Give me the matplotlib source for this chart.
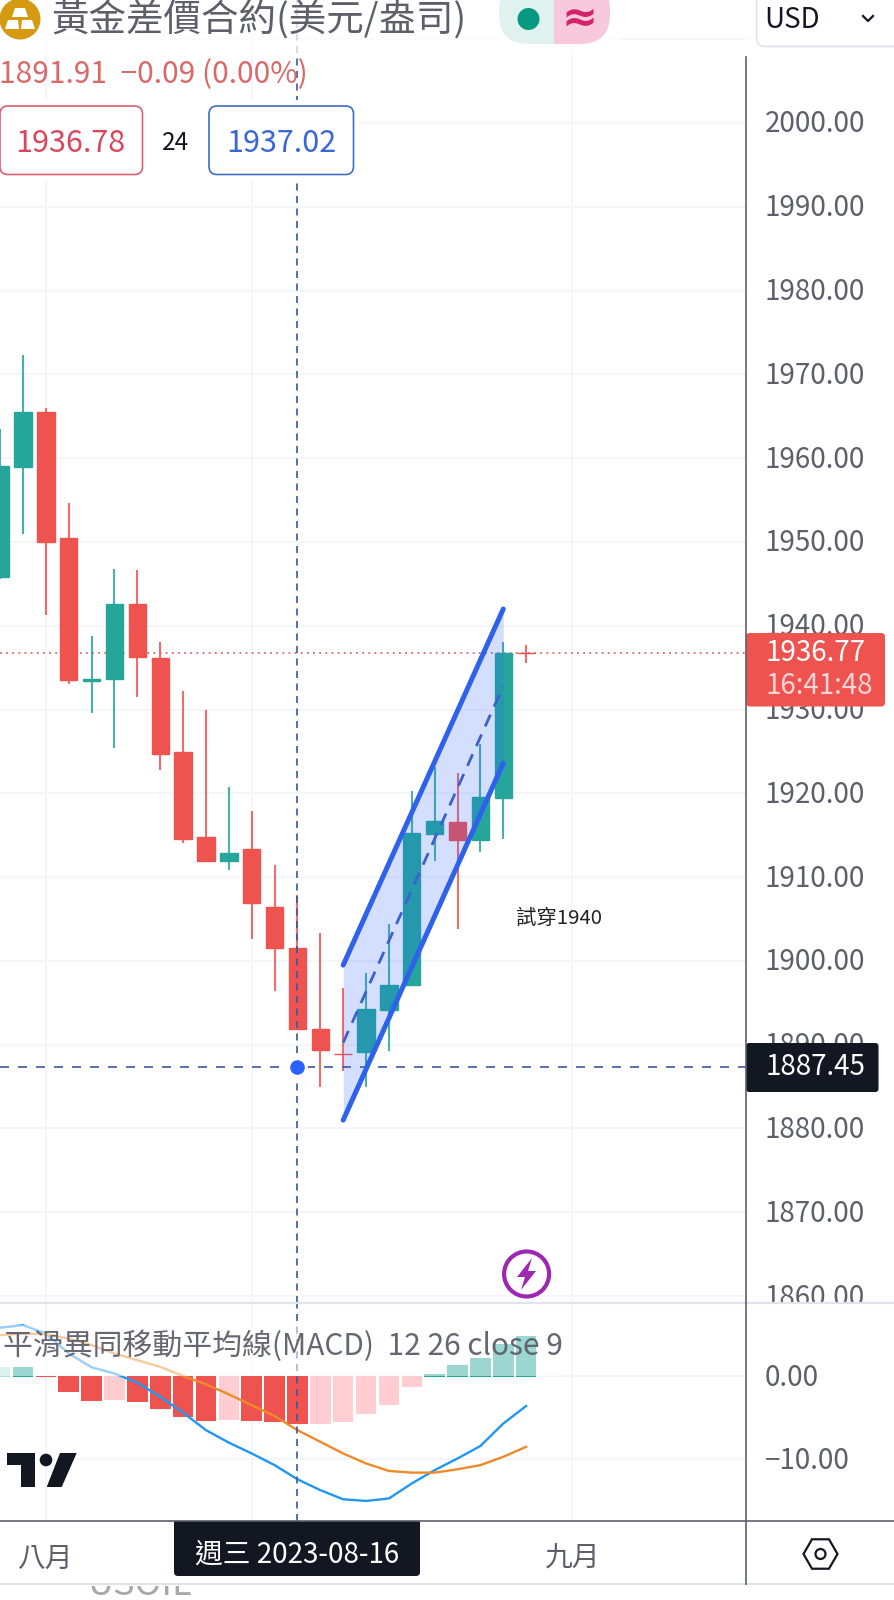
"""
Gold CFD daily candles with channel drawing and MACD pane, phone screenshot look.
"""
import numpy as np
from matplotlib import pyplot as plt
from matplotlib.patches import Circle, FancyBboxPatch, Polygon, Rectangle
from matplotlib.transforms import ScaledTranslation

plt.rcParams['font.family'] = ['Noto Sans CJK TC', 'DejaVu Sans']

# Candles, one per session
OPEN = [1945.8, 1959.0, 1965.5, 1950.5, 1933.4, 1933.6, 1942.6, 1936.2, 1924.9, 1914.8, 1911.9, 1913.3,
        1906.4, 1901.5, 1891.9, 1888.9, 1889.1, 1894.1, 1897.1, 1915.1, 1916.6, 1914.4, 1919.5, 1936.8]
HIGH = [1963.5, 1972.3, 1966.0, 1954.6, 1938.8, 1946.8, 1946.6, 1938.0, 1932.2, 1930.0, 1920.8, 1917.9,
        1911.4, 1907.9, 1903.3, 1896.8, 1898.6, 1904.4, 1920.3, 1923.2, 1922.4, 1925.9, 1938.1, 1937.7]
LOW = [1945.6, 1950.9, 1941.3, 1933.0, 1929.6, 1925.4, 1931.5, 1922.8, 1914.1, 1911.9, 1910.9, 1902.6,
       1896.4, 1891.8, 1884.9, 1886.9, 1884.9, 1889.2, 1897.1, 1911.9, 1903.8, 1913.0, 1914.6, 1935.6]
CLOSE = [1959.1, 1965.5, 1950.0, 1933.5, 1933.7, 1942.6, 1936.3, 1924.7, 1914.5, 1911.9, 1912.9, 1906.9,
         1901.5, 1891.91, 1889.4, 1888.85, 1894.2, 1897.1, 1915.3, 1916.7, 1914.4, 1919.6, 1936.8, 1936.77]

# MACD pane
HIST = [1.05, 1.1, -0.15, -1.9, -2.95, -2.9, -3.1, -4.0, -4.9, -5.4, -5.3, -5.4,
        -5.5, -5.8, -5.75, -5.5, -4.6, -3.5, -1.3, 0.3, 1.3, 2.2, 3.9, 4.8]
MACD = [5.8, 6.1, 5.1, 2.7, 1.05, 0.3, -0.8, -2.5, -4.4, -6.5, -8.0, -9.3,
        -10.7, -12.4, -13.7, -14.8, -15.0, -14.7, -12.9, -11.3, -9.9, -8.4, -5.7, -3.6]
SIGNAL = [4.9, 5.1, 5.0, 4.5, 3.7, 2.7, 1.9, 1.1, 0.0, -1.0, -2.2, -3.5,
          -4.8, -6.5, -7.9, -9.3, -10.5, -11.4, -11.6, -11.6, -11.2, -10.7, -9.7, -8.5]

# Parallel channel drawing: bar numbers and prices at both ends
CHANNEL_X = [15, 22]
CHANNEL_TOP = [1899.5, 1942.0]
CHANNEL_BOTTOM = [1881.0, 1923.6]

PRICE_TICKS = [2010, 2000, 1990, 1980, 1970, 1960, 1950, 1940, 1930, 1920, 1910, 1900, 1890, 1880, 1870, 1860]
PRICE_LABELS = [2000, 1990, 1980, 1970, 1960, 1950, 1940, 1930, 1920, 1910, 1900, 1890, 1880, 1870, 1860]
MACD_TICKS = [0, -10]
MONTH_TICKS = [2, 11, 25]
MONTH_LABELS = ['八月', '', '九月']

LAST_PRICE = 1936.77
CROSS_PRICE = 1887.3
CROSS_BAR = 13

RED = '#ef5350'
TEAL = '#26a69a'
BLUE = '#2f62ea'
GRID = '#f4f6fb'
LABEL = '#5d606b'
DARK = '#131722'

W, H = 894, 1600
AXIS_X, PANE_Y, TIME_Y = 746, 1303, 1521
BAR_PX, BAR0_PX = 22.87, 0.14
PRICE_TOP, PRICE_PX = 2000 + 123 / 8.379, 8.379
MACD_PX = 8.33


def pane(top, bottom):
    ax = plt.gcf().add_axes([0, 1 - bottom / H, AXIS_X / W, (bottom - top) / H])
    ax.set_xlim(-BAR0_PX / BAR_PX, (AXIS_X - BAR0_PX) / BAR_PX)
    ax.yaxis.tick_right()
    for spine in ax.spines.values():
        spine.set_visible(False)
    ax.tick_params(length=0, colors=LABEL, labelsize=20)
    ax.tick_params(axis='y', pad=13.5)
    ax.grid(True, color=GRID, lw=1.3)
    ax.set_axisbelow(True)
    return ax


def nudge_y_labels(ax):
    # labels sit 2 px higher than plain centring gives
    shift = ScaledTranslation(0, 2 / 100, plt.gcf().dpi_scale_trans)
    for label in ax.get_yticklabels():
        label.set_transform(label.get_transform() + shift)


def draw_price(ax):
    ax.set_ylim(PRICE_TOP - (PANE_Y / PRICE_PX), PRICE_TOP)
    ax.set_yticks(PRICE_TICKS)
    ax.set_yticklabels([f'{p:.2f}' if p in PRICE_LABELS else '' for p in PRICE_TICKS])
    nudge_y_labels(ax)
    ax.set_xticks(MONTH_TICKS)
    ax.tick_params(axis='x', labelbottom=False)

    bars = np.arange(len(OPEN))
    colors = [TEAL if c >= o else RED for o, c in zip(OPEN, CLOSE)]
    ax.vlines(bars, LOW, HIGH, colors=colors, lw=1.5, alpha=0.85, zorder=3)
    ax.bar(bars, np.array(CLOSE) - np.array(OPEN), bottom=OPEN, width=0.76, color=colors,
           edgecolor=colors, lw=1.0, zorder=4)

    ax.axhline(LAST_PRICE, color='#d9696a', lw=1.3, ls=(0, (1, 2.4)), zorder=2)
    ax.axhline(CROSS_PRICE, color='#3d5a9c', lw=1.2, ls=(0, (5.4, 5.4)), zorder=5)
    ax.axvline(CROSS_BAR, color='#2f5aa8', lw=1.2, ls=(0, (4.2, 3.3)), zorder=5)

    ax.fill_between(CHANNEL_X, CHANNEL_BOTTOM, CHANNEL_TOP, color='#2962ff', alpha=0.2, lw=0, zorder=6)
    ax.plot(CHANNEL_X, CHANNEL_TOP, color=BLUE, lw=3.6, solid_capstyle='round', zorder=7)
    ax.plot(CHANNEL_X, CHANNEL_BOTTOM, color=BLUE, lw=3.6, solid_capstyle='round', zorder=7)
    middle = (np.array(CHANNEL_TOP) + np.array(CHANNEL_BOTTOM)) / 2
    ax.plot(CHANNEL_X, middle, color='#3b60d0', lw=2.0, ls=(0, (4.6, 3.2)), zorder=7)

    ax.plot(CROSS_BAR, CROSS_PRICE, 'o', ms=10, color='#2962ff', mec='white', mew=5, zorder=8)
    ax.plot(CROSS_BAR, CROSS_PRICE, 'o', ms=9.5, color='#2962ff', zorder=9)


def draw_macd(ax):
    ax.set_ylim(-(TIME_Y - 1376) / MACD_PX, (1376 - PANE_Y) / MACD_PX)
    ax.set_yticks(MACD_TICKS)
    ax.set_yticklabels(['0.00', '\u221210.00'])
    nudge_y_labels(ax)
    ax.set_xticks(MONTH_TICKS)
    ax.set_xticklabels(MONTH_LABELS)
    ax.tick_params(axis='x', pad=16.5)

    bars = np.arange(len(HIST))
    previous = [HIST[0] + 1] + HIST[:-1]
    colors = []
    for value, before in zip(HIST, previous):
        if value >= 0:
            colors.append(TEAL if value > before else '#b2dfdb')
        else:
            colors.append('#ffcdd2' if value > before else RED)
    bottoms = [-0.15 if v > 0 else 0 for v in HIST]
    ax.bar(bars, np.array(HIST) - np.array(bottoms), bottom=bottoms, width=0.9, color=colors, lw=0, zorder=2)

    ax.plot(bars, MACD, color='#2196f3', lw=1.7, zorder=3)
    ax.plot(bars, SIGNAL, color='#ef8a2a', lw=1.7, zorder=3)
    ax.axvline(CROSS_BAR, color='#2f5aa8', lw=1.2, ls=(0, (4.2, 3.3)), zorder=5)


def draw_chrome(ui):
    ui.set_xlim(0, W)
    ui.set_ylim(H, 0)
    ui.axis('off')
    ui.patch.set_alpha(0)

    # white areas over the plot
    ui.add_patch(Rectangle((0, 0), 620, 57, color='white', alpha=0.75, lw=0))
    ui.add_patch(Rectangle((0, 100), 359, 80, color='white', lw=0))
    ui.add_patch(Rectangle((0, 1325), 562, 51, color='white', alpha=0.55, lw=0))
    ui.add_patch(Rectangle((AXIS_X, 0), W - AXIS_X, 57, color='white', lw=0))
    ui.add_patch(Rectangle((AXIS_X, PANE_Y), W - AXIS_X, 40, color='white', lw=0))

    # pane borders
    ui.plot([0, W], [PANE_Y, PANE_Y], color='#e0e3eb', lw=1.6)
    ui.plot([0, W], [TIME_Y, TIME_Y], color='#5d606b', lw=1.2)
    ui.plot([0, W], [1584, 1584], color='#e0e3eb', lw=1.4)
    ui.plot([AXIS_X, AXIS_X], [57, 1584], color='#5d606b', lw=1.2)

    # symbol row
    ui.add_patch(Circle((20, 19), 20.5, color='#d59a12', lw=0))
    for pts in ([(15, 8), (25, 8), (28, 17), (12, 17)],
                [(5, 29), (8, 20), (18, 20), (19, 29)],
                [(21, 29), (22, 20), (32, 20), (35, 29)]):
        ui.add_patch(Polygon(pts, color='white', lw=0))
    ui.text(52, 21, '黃金差價合約(美元/盎司)', fontsize=27, color='#5d606b', va='center')

    ui.add_patch(FancyBboxPatch((499, -20), 111, 64, boxstyle='round,pad=0,rounding_size=30',
                                fc='#dff2ee', ec='none'))
    right_half = FancyBboxPatch((499, -20), 111, 64, boxstyle='round,pad=0,rounding_size=30',
                                fc='#f8c9dc', ec='none')
    ui.add_patch(right_half)
    right_half.set_clip_path(Rectangle((554, -20), 60, 64, transform=ui.transData))
    ui.add_patch(Circle((528.5, 19), 11, color='#089981', lw=0))
    ui.text(579, 19, '≈', fontsize=31, color='#d3246b', ha='center', va='center', fontweight='bold',
            family='DejaVu Sans')

    ui.add_patch(FancyBboxPatch((756.5, -20), 150, 66.5, boxstyle='round,pad=0,rounding_size=9',
                                fc='white', ec='#e0e3eb', lw=1.2))
    ui.text(764, 20, 'USD', fontsize=20, color=DARK, va='center')
    ui.plot([863, 868, 873], [16, 21, 16], color=DARK, lw=1.6)

    ui.text(-1, 75, '1891.91  \u22120.09 (0.00%)', fontsize=21.5, color='#d9696a', va='center')

    ui.add_patch(FancyBboxPatch((0, 106), 142.5, 68.5, boxstyle='round,pad=0,rounding_size=8',
                                fc='white', ec='#d9606f', lw=1.2))
    ui.text(70, 143, '1936.78', fontsize=22, color='#d8475c', ha='center', va='center')
    ui.text(175.5, 143, '24', fontsize=17.5, color=DARK, ha='center', va='center')
    ui.add_patch(FancyBboxPatch((209, 106), 144.5, 68.5, boxstyle='round,pad=0,rounding_size=8',
                                fc='white', ec='#3f6cc4', lw=1.2))
    ui.text(281, 143, '1937.02', fontsize=22, color='#3a66d6', ha='center', va='center')

    # axis price labels
    ui.add_patch(FancyBboxPatch((AXIS_X, 633), 139, 73.5, boxstyle='round,pad=0,rounding_size=4',
                                fc=RED, ec='none'))
    ui.text(815, 653, '1936.77', fontsize=20, color='white', ha='center', va='center')
    ui.text(819, 686, '16:41:48', fontsize=20, color='#ffd5d5', ha='center', va='center')
    ui.add_patch(FancyBboxPatch((AXIS_X, 1043), 132.5, 49, boxstyle='round,pad=0,rounding_size=3',
                                fc=DARK, ec='none'))
    ui.text(815, 1067, '1887.45', fontsize=20, color='white', ha='center', va='center')

    ui.text(559, 918, '試穿1940', fontsize=14.7, color='#222222', ha='center', va='center')

    # flash icon
    ui.add_patch(Circle((526.6, 1274), 22.5, fc='white', ec='#9c27b0', lw=3))
    ui.add_patch(Polygon([(532, 1258), (517, 1277), (525, 1277), (521, 1290), (536, 1271), (528, 1271)],
                         color='#9c27b0', lw=0))

    ui.text(3, 1346, '平滑異同移動平均線(MACD)  12 26 close 9', fontsize=21.5, color=LABEL, alpha=0.95, va='center')

    # logo
    ui.add_patch(Polygon([(7, 1453), (35, 1453), (35, 1487), (21, 1487), (21, 1465), (7, 1465)], color=DARK, lw=0))
    ui.add_patch(Circle((46, 1460), 6.3, color=DARK, lw=0))
    ui.add_patch(Polygon([(60, 1453), (76.7, 1453), (61.7, 1487), (46.7, 1487)], color=DARK, lw=0))

    # time axis
    ui.add_patch(FancyBboxPatch((174, TIME_Y), 246, 55, boxstyle='round,pad=0,rounding_size=4', fc=DARK, ec='none'))
    ui.add_patch(Rectangle((174, TIME_Y), 246, 6, color=DARK, lw=0))
    ui.text(297, 1555, '週三 2023-08-16', fontsize=20, color='white', ha='center', va='center')

    hex_angles = np.deg2rad(np.arange(0, 360, 60))
    ui.add_patch(Polygon(np.column_stack([820.5 + 17 * np.cos(hex_angles), 1554 + 17 * np.sin(hex_angles)]),
                         fc='none', ec=DARK, lw=1.6))
    ui.add_patch(Circle((820.5, 1554), 5, fc='none', ec=DARK, lw=1.6))

    # next chart's name, cut by the page border
    name = ui.text(140, 1585, 'USOIL', fontsize=26, color='#a8a8a8', ha='center', va='center')
    name.set_clip_path(Rectangle((0, 1586), W, 14, transform=ui.transData))
    name.set_clip_on(True)


def main() -> None:
    fig = plt.figure(figsize=(W / 100, H / 100), dpi=100)
    price_ax = pane(0, PANE_Y)
    draw_price(price_ax)
    macd_ax = pane(PANE_Y, TIME_Y)
    draw_macd(macd_ax)
    ui = fig.add_axes([0, 0, 1, 1], zorder=5)
    draw_chrome(ui)
    fig.savefig('out.png', dpi=100)


if __name__ == "__main__":
    main()
